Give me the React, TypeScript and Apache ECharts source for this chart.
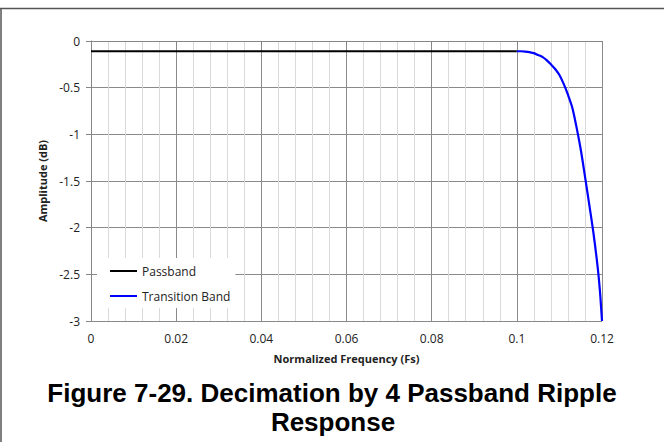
import React, { useEffect, useRef } from "react";
import * as echarts from "echarts";

const passbandFreq = [0, 0.02, 0.04, 0.06, 0.08, 0.1];
const passbandDb = [-0.11, -0.11, -0.11, -0.11, -0.11, -0.11];

const transitionFreq = [
  0.1, 0.101, 0.102, 0.103, 0.104, 0.105, 0.106, 0.107, 0.108, 0.109, 0.11,
  0.111, 0.112, 0.113, 0.114, 0.115, 0.116, 0.117, 0.118, 0.119, 0.1195, 0.12,
];
const transitionDb = [
  -0.11, -0.11, -0.113, -0.12, -0.13, -0.15, -0.17, -0.205, -0.25, -0.3, -0.365,
  -0.46, -0.575, -0.71, -0.92, -1.16, -1.45, -1.75, -2.06, -2.43, -2.67, -3.0,
];

const seriesNames = ["Passband", "Transition Band"];
const titleLines = ["Figure 7-29. Decimation by 4 Passband Ripple", "Response"];
const xAxisName = "Normalized Frequency (Fs)";
const yAxisName = "Amplitude (dB)";

export default function App() {
  const ref = useRef<HTMLDivElement>(null);
  useEffect(() => {
    document.body.style.margin = "0";
    if (!ref.current) return;
    const chart = echarts.init(ref.current, null, { renderer: "svg" });
    const font = "'Open Sans', 'Noto Sans', sans-serif";
    const titleFont = "'Liberation Sans', Arial, sans-serif";
    chart.setOption({
      animation: false,
      backgroundColor: "#ffffff",
      textStyle: { fontFamily: font },
      grid: { left: 91, right: 62, top: 41, bottom: 121, containLabel: false },
      legend: {
        orient: "vertical",
        left: 97,
        top: 258,
        backgroundColor: "#ffffff",
        padding: [6, 5, 5, 13],
        itemGap: 11,
        itemWidth: 27,
        itemHeight: 2,
        icon: "rect",
        data: seriesNames,
        textStyle: { fontFamily: font, fontSize: 12, color: "#222", lineHeight: 14 },
      },
      xAxis: {
        type: "value",
        min: 0,
        max: 0.12,
        interval: 0.02,
        name: xAxisName,
        nameLocation: "middle",
        nameGap: 32,
        nameTextStyle: { fontFamily: font, fontWeight: "bold", fontSize: 11, color: "#222" },
        axisLine: { show: true, lineStyle: { color: "#868686", width: 1 } },
        axisTick: { show: true, length: 5, lineStyle: { color: "#868686" } },
        axisLabel: {
          margin: 11,
          fontSize: 12,
          color: "#222",
          fontFamily: font,
          formatter: (v: number) => String(+v.toFixed(3)),
        },
        splitLine: { show: true, lineStyle: { color: "#8a8a8a", width: 1 } },
        minorTick: { show: false, splitNumber: 5 },
        minorSplitLine: { show: true, lineStyle: { color: "#d9d9d9", width: 1 } },
      },
      yAxis: {
        type: "value",
        min: -3,
        max: 0,
        interval: 0.5,
        name: yAxisName,
        nameLocation: "middle",
        nameGap: 40,
        nameRotate: 90,
        nameTextStyle: { fontFamily: font, fontWeight: "bold", fontSize: 11, color: "#222" },
        axisLine: { show: true, lineStyle: { color: "#868686", width: 1 } },
        axisTick: { show: true, length: 5, lineStyle: { color: "#868686" } },
        axisLabel: {
          margin: 11,
          fontSize: 12,
          color: "#222",
          fontFamily: font,
          formatter: (v: number) => String(+v.toFixed(2)),
        },
        splitLine: { show: true, lineStyle: { color: "#8a8a8a", width: 1 } },
      },
      graphic: [
        { type: "line", shape: { x1: 0, y1: 8.5, x2: 664, y2: 8.5 }, style: { stroke: "#555", lineWidth: 1.5 } },
        { type: "line", shape: { x1: 1, y1: 8.5, x2: 1, y2: 442 }, style: { stroke: "#555", lineWidth: 1.5 } },
        {
          type: "text",
          x: 332,
          y: 393,
          style: {
            text: titleLines[0],
            fontFamily: titleFont,
            fontWeight: "bold",
            fontSize: 26,
            fill: "#000",
            align: "center",
            verticalAlign: "middle",
          },
        },
        {
          type: "text",
          x: 333,
          y: 422,
          style: {
            text: titleLines[1],
            fontFamily: titleFont,
            fontWeight: "bold",
            fontSize: 26,
            fill: "#000",
            align: "center",
            verticalAlign: "middle",
          },
        },
      ],
      series: [
        {
          name: seriesNames[0],
          type: "line",
          data: passbandFreq.map((f, i) => [f, passbandDb[i]]),
          showSymbol: false,
          symbol: "none",
          lineStyle: { color: "#000000", width: 2.2 },
          itemStyle: { color: "#000000" },
          z: 3,
        },
        {
          name: seriesNames[1],
          type: "line",
          data: transitionFreq.map((f, i) => [f, transitionDb[i]]),
          showSymbol: false,
          symbol: "none",
          smooth: 0.3,
          lineStyle: { color: "#0000ff", width: 2.2 },
          itemStyle: { color: "#0000ff" },
          z: 3,
        },
      ],
    });
    return () => chart.dispose();
  }, []);
  return <div ref={ref} style={{ width: 664, height: 442 }} />;
}
